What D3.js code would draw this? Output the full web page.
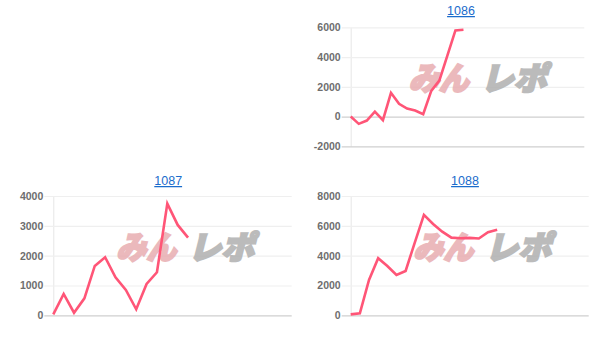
<!DOCTYPE html>
<html>
<head>
<meta charset="utf-8">
<script src="https://cdn.jsdelivr.net/npm/d3@7"></script>
<style>
  html, body { margin: 0; padding: 0; background: #fff; }
  svg { display: block; }
</style>
</head>
<body>
<svg id="chart" width="613" height="342"></svg>
<script>
// ---- data ----
const panelNames = ["1086", "1087", "1088"];
const values1086 = [0, -490, -270, 336, -242, 1593, 854, 538, 403, 161, 1728, 2420, 4100, 5790, 5840];
const values1087 = [30, 715, 87, 570, 1654, 1946, 1275, 849, 201, 1050, 1443, 3745, 3030, 2604];
const values1088 = [60, 130, 2370, 3826, 3309, 2705, 2973, 4880, 6731, 6128, 5611, 5208, 5168, 5190, 5150, 5570, 5745];
const slotCounts = [30, 24, 27];
const yTicks1086 = [-2000, 0, 2000, 4000, 6000];
const yTicks1087 = [0, 1000, 2000, 3000, 4000];
const yTicks1088 = [0, 2000, 4000, 6000, 8000];
const watermarkLeft = "みん";
const watermarkRight = "レポ";

// ---- layout ----
const panels = [
  { name: panelNames[0], values: values1086, ticks: yTicks1086, slots: slotCounts[0],
    left: 350.7, right: 584.3, top: 27.3, bottom: 146.3, titleX: 461, titleY: 15 },
  { name: panelNames[1], values: values1087, ticks: yTicks1087, slots: slotCounts[1],
    left: 53.3, right: 291.7, top: 196, bottom: 315.3, titleX: 168.2, titleY: 185 },
  { name: panelNames[2], values: values1088, ticks: yTicks1088, slots: slotCounts[2],
    left: 350.7, right: 588.7, top: 196, bottom: 315.3, titleX: 465, titleY: 185 }
];

const svg = d3.select("#chart");
const FONT = "'Liberation Sans', Arial, Helvetica, sans-serif";

panels.forEach(p => {
  const g = svg.append("g");
  const w = p.right - p.left;
  const x = d3.scalePoint().domain(d3.range(p.slots)).range([p.left, p.right]);
  const y = d3.scaleLinear().domain(d3.extent(p.ticks)).range([p.bottom, p.top]);
  const yMin = d3.min(p.ticks);

  // y axis with grid lines
  const axis = d3.axisLeft(y).tickValues(p.ticks).tickSize(0).tickPadding(10)
    .tickFormat(d => String(d));
  const ag = g.append("g").attr("transform", `translate(${p.left},0)`).call(axis);
  ag.select(".domain").attr("stroke", "#e6e6e6").attr("stroke-width", 1);
  ag.selectAll(".tick line")
    .attr("x1", -9).attr("x2", w)
    .attr("stroke", d => (d === 0 || d === yMin) ? "#cfcfcf" : "#efefef")
    .attr("stroke-width", d => (d === 0 || d === yMin) ? 1.3 : 1.2);
  ag.selectAll(".tick text")
    .attr("fill", "#6e6e6e")
    .attr("font-family", FONT)
    .attr("font-size", "10.5px")
    .attr("font-weight", "bold");
  ag.attr("font-family", null).attr("font-size", null);

  // watermark
  const wmRight = p.right - 35.5;
  const wmBase = p.top + 38 + 25;
  const wm = g.append("g")
    .attr("transform", `translate(0,${wmBase}) skewX(-14)`);
  wm.append("text")
    .attr("x", wmRight - 140).attr("y", 0)
    .attr("textLength", 60).attr("lengthAdjust", "spacingAndGlyphs")
    .attr("font-family", "'Noto Sans CJK JP', sans-serif")
    .attr("font-weight", 900).attr("font-size", 32)
    .attr("fill", "#e8adb1").attr("stroke", "#e8adb1").attr("stroke-width", 2.2)
    .attr("opacity", 0.85)
    .text(watermarkLeft);
  wm.append("text")
    .attr("x", wmRight - 68).attr("y", 0)
    .attr("textLength", 66).attr("lengthAdjust", "spacingAndGlyphs")
    .attr("font-family", "'Noto Sans CJK JP', sans-serif")
    .attr("font-weight", 900).attr("font-size", 32)
    .attr("fill", "#b0b0b0").attr("stroke", "#b0b0b0").attr("stroke-width", 2.2)
    .attr("opacity", 0.85)
    .text(watermarkRight);

  // line
  const line = d3.line().x((d, i) => x(i)).y(d => y(d));
  g.append("path")
    .datum(p.values)
    .attr("d", line)
    .attr("fill", "none")
    .attr("stroke", "#ff5577")
    .attr("stroke-width", 2.6)
    .attr("stroke-linejoin", "miter");

  // title
  g.append("text")
    .attr("x", p.titleX).attr("y", p.titleY)
    .attr("text-anchor", "middle")
    .attr("font-family", FONT)
    .attr("font-size", "12.5px")
    .attr("fill", "#1a6ccc")
    .style("text-decoration", "underline")
    .text(p.name);
});
</script>
</body>
</html>
